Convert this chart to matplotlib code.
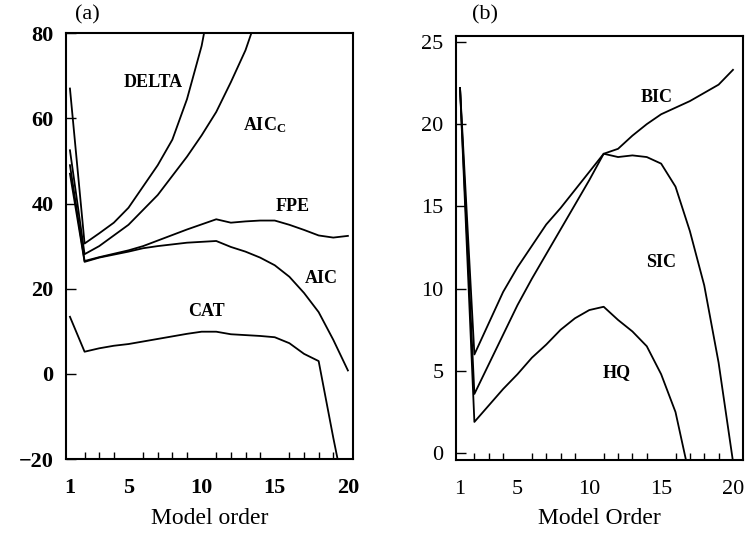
import numpy as np
import matplotlib
matplotlib.use("Agg")
from matplotlib import pyplot as plt

plt.rcParams['font.family'] = ['Liberation Serif', 'DejaVu Serif']
plt.rcParams['mathtext.fontset'] = 'custom'
plt.rcParams['mathtext.bf'] = 'Liberation Serif:bold'
plt.rcParams['mathtext.rm'] = 'Liberation Serif'

# panel (a): criteria vs model order
order = np.arange(1, 21)
delta = [67, 30.6, 33, 35.5, 39, 44, 49, 55, 64.5, 77, 95]
aicc = [52.5, 28.1, 30, 32.5, 35, 38.5, 42, 46.5, 51, 56, 61.5, 68.5, 76, 86]
fpe = [49, 26.5, 27.4, 28.2, 29, 30, 31.3, 32.6, 33.9, 35.1, 36.3,
       35.5, 35.8, 36, 36, 35, 33.8, 32.5, 32, 32.4]
aic = [47, 26.3, 27.3, 28, 28.7, 29.5, 30, 30.4, 30.8, 31, 31.2,
       29.8, 28.7, 27.3, 25.5, 22.8, 19, 14.5, 8, 0.8]
cat = [13.4, 5.2, 6, 6.6, 7, 7.6, 8.2, 8.8, 9.4, 9.9, 9.9,
       9.3, 9.1, 8.9, 8.6, 7.2, 4.7, 3, -15, -32]

# panel (b)
bic = [22.2, 6.0, 7.9, 9.8, 11.3, 12.6, 13.9, 14.9, 16.0, 17.1, 18.2,
       18.5, 19.3, 20.0, 20.6, 21.0, 21.4, 21.9, 22.4, 23.3]
sic = [22.2, 3.6, 5.4, 7.2, 9.0, 10.6, 12.1, 13.6, 15.1, 16.6, 18.2,
       18.0, 18.1, 18.0, 17.6, 16.2, 13.5, 10.2, 5.5, -0.5]
hq = [22.2, 1.9, 2.9, 3.9, 4.8, 5.8, 6.6, 7.5, 8.2, 8.7, 8.9,
      8.1, 7.4, 6.5, 4.8, 2.5, -1.5]

labels_a = [("DELTA", 6.67, 68.3), (r"$\mathbf{AIC_C}$", 14.3, 58.4),
            ("FPE", 16.2, 39.2), ("AIC", 18.2, 22.5), ("CAT", 10.3, 14.7)]
labels_b = [("BIC", 14.7, 21.6), ("SIC", 15.0, 11.6), ("HQ", 11.9, 4.9)]

fig = plt.figure(figsize=(7.5, 5.35), dpi=100)
ax1 = fig.add_axes([0.088, 0.142, 0.3827, 0.796])
ax2 = fig.add_axes([0.608, 0.140, 0.3827, 0.7925])

for s in (delta, aicc, fpe, aic, cat):
    ax1.plot(order[:len(s)], s, color='black', lw=1.3)
for s in (bic, sic, hq):
    ax2.plot(order[:len(s)], s, color='black', lw=1.3)

ax1.set_xlim(0.73, 20.35)
ax1.set_ylim(-20, 80)
ax1.set_yticks([-20, 0, 20, 40, 60, 80])
ax1.set_yticklabels(['\u221220', '0', '20', '40', '60', '80'])
ax2.set_xlim(0.72, 20.7)
ax2.set_ylim(-0.42, 25.35)
ax2.set_yticks([0, 5, 10, 15, 20, 25])

for ax, wt in ((ax1, 'bold'), (ax2, 'normal')):
    ax.set_xticks([1, 5, 10, 15, 20])
    ax.set_xticks(order, minor=True)
    ax.tick_params(axis='x', which='major', length=0, pad=14, labelsize=16)
    ax.tick_params(axis='x', which='minor', direction='in', length=5, width=1)
    ax.tick_params(axis='y', which='major', direction='in', length=7, width=1,
                   labelsize=16, pad=9)
    for lab in ax.get_xticklabels() + ax.get_yticklabels():
        lab.set_fontweight(wt)
    for sp in ax.spines.values():
        sp.set_linewidth(1.5)

for txt, x, y in labels_a:
    ax1.text(x, y, txt, ha='center', va='center', fontsize=13, fontweight='bold')
for txt, x, y in labels_b:
    ax2.text(x, y, txt, ha='center', va='center', fontsize=13, fontweight='bold')

ax1.set_xlabel("Model order", fontsize=17, labelpad=7)
ax2.set_xlabel("Model Order", fontsize=17, labelpad=7)
fig.text(0.117, 0.973, "(a)", fontsize=16, ha='center', va='center')
fig.text(0.647, 0.973, "(b)", fontsize=16, ha='center', va='center')

plt.savefig("out.png", dpi=100)
